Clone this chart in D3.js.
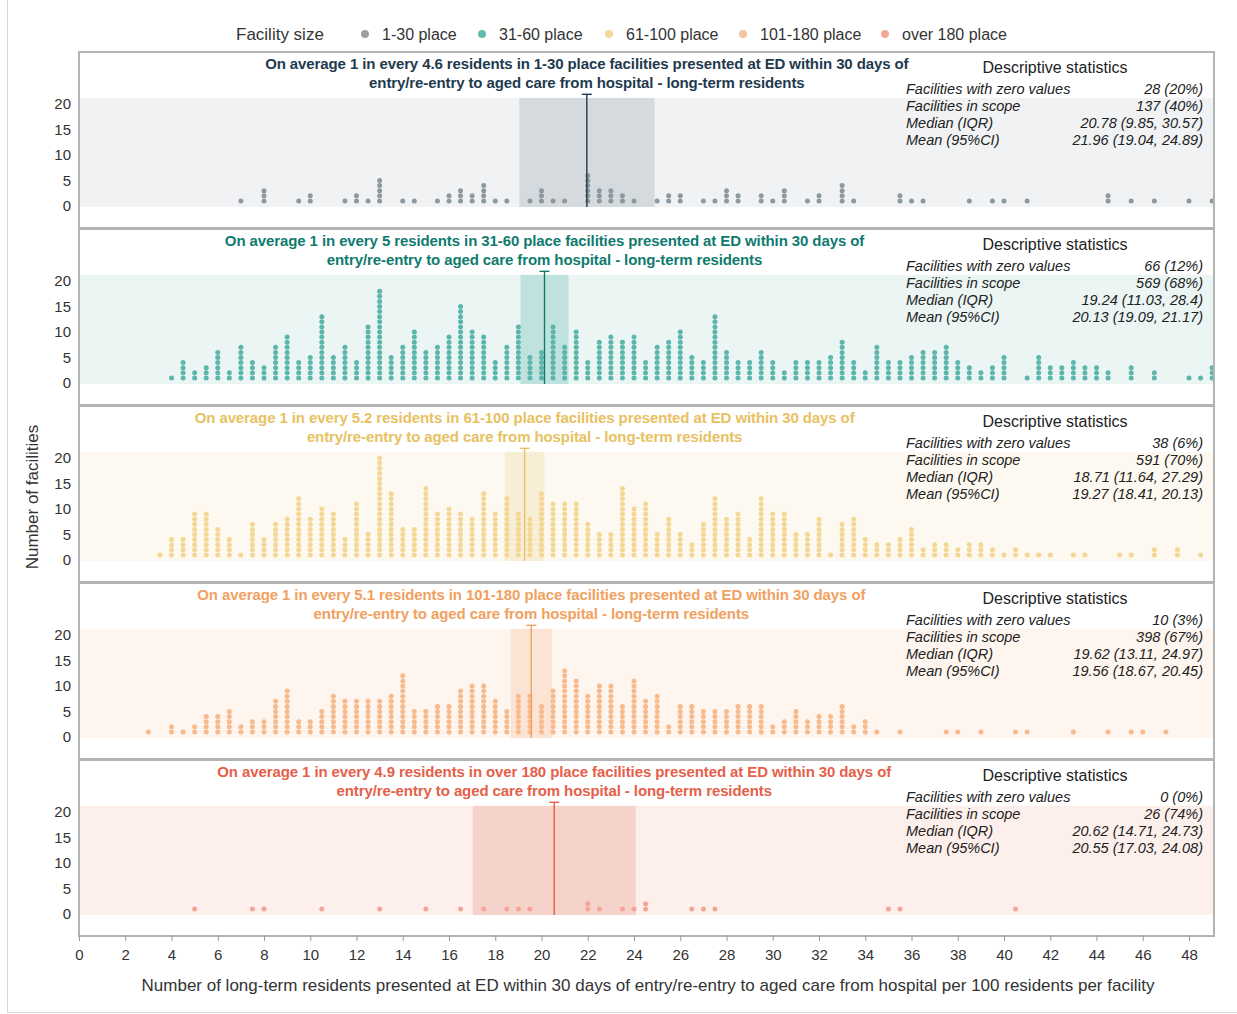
<!DOCTYPE html>
<html>
<head>
<meta charset="utf-8">
<script src="https://cdn.jsdelivr.net/npm/d3@7"></script>
<style>
  body { margin: 0; background: #fff; }
  svg { font-family: "Liberation Sans", Arial, sans-serif; }
</style>
</head>
<body>
<svg id="chart" width="1237" height="1014"></svg>
<script>
// facility size groups
var groups = ["1-30", "31-60", "61-100", "101-180", "over 180"];
var avgEvery = ["4.6", "5", "5.2", "5.1", "4.9"];

// dot plot bins (rate per 100 residents) and number of facilities in each
var rate1 = [7,8,9.5,10,11.5,12,12.5,13,14,14.5,15.5,16,16.5,17,17.5,18,18.5,19.5,20,20.5,21,22,22.5,23,23.5,24,25,25.5,26,27,27.5,28,28.5,29.5,30,30.5,31.5,32,33,33.5,35.5,36,36.5,38.5,39.5,40,41,44.5,45.5,46.5,48,49];
var count1 = [1,3,1,2,1,2,1,5,1,1,1,2,3,2,4,1,1,1,3,1,1,6,3,3,2,1,1,2,2,1,1,3,2,2,1,3,1,2,4,1,2,1,1,1,1,1,1,2,1,1,1,1];

var rate2 = [4,4.5,5,5.5,6,6.5,7,7.5,8,8.5,9,9.5,10,10.5,11,11.5,12,12.5,13,13.5,14,14.5,15,15.5,16,16.5,17,17.5,18,18.5,19,19.5,20,20.5,21,21.5,22,22.5,23,23.5,24,24.5,25,25.5,26,26.5,27,27.5,28,28.5,29,29.5,30,30.5,31,31.5,32,32.5,33,33.5,34,34.5,35,35.5,36,36.5,37,37.5,38,38.5,39,39.5,40,41,41.5,42,42.5,43,43.5,44,44.5,45.5,46.5,48,48.5,49];
var count2 = [1,4,2,3,6,2,7,4,3,7,9,4,5,13,5,7,4,11,18,5,7,10,6,7,9,15,10,9,4,7,11,5,6,11,7,10,4,8,9,8,9,4,7,8,10,5,4,13,6,4,4,6,4,2,4,4,4,5,8,4,2,7,4,4,5,6,6,7,4,3,2,3,5,1,5,3,3,4,3,3,2,3,2,1,1,3];

var rate3 = [3.5,4,4.5,5,5.5,6,6.5,7,7.5,8,8.5,9,9.5,10,10.5,11,11.5,12,12.5,13,13.5,14,14.5,15,15.5,16,16.5,17,17.5,18,18.5,19,19.5,20,20.5,21,21.5,22,22.5,23,23.5,24,24.5,25,25.5,26,26.5,27,27.5,28,28.5,29,29.5,30,30.5,31,31.5,32,32.5,33,33.5,34,34.5,35,35.5,36,36.5,37,37.5,38,38.5,39,39.5,40,40.5,41,41.5,42,43,43.5,45,45.5,46.5,47.5,48.5];
var count3 = [1,4,4,9,9,6,4,1,7,4,7,8,12,8,10,9,4,11,5,20,13,6,6,14,9,10,9,8,13,9,12,9,8,13,11,11,11,7,5,5,14,10,11,5,8,5,3,7,12,8,9,4,12,9,9,5,5,8,1,7,8,4,3,3,4,6,2,3,3,2,3,3,2,1,2,1,1,1,1,1,1,1,2,2,1];

var rate4 = [3,4,4.5,5,5.5,6,6.5,7,7.5,8,8.5,9,9.5,10,10.5,11,11.5,12,12.5,13,13.5,14,14.5,15,15.5,16,16.5,17,17.5,18,18.5,19,19.5,20,20.5,21,21.5,22,22.5,23,23.5,24,24.5,25,25.5,26,26.5,27,27.5,28,28.5,29,29.5,30,30.5,31,31.5,32,32.5,33,33.5,34,34.5,35.5,37.5,38,39,40.5,41,43,44.5,45.5,46,47];
var count4 = [1,2,1,2,4,4,5,2,3,3,7,9,3,3,5,8,7,7,7,7,8,12,5,5,6,6,9,10,10,7,5,8,8,6,9,13,11,8,10,10,6,11,7,8,2,6,6,5,5,5,6,6,6,2,3,5,3,4,4,6,2,3,1,1,1,1,1,1,1,1,1,1,1,1];

var rate5 = [5,7.5,8,10.5,13,15,16.5,17.5,18.5,19,19.5,22,22.5,23.5,24,24.5,26.5,27,27.5,35,35.5,40.5];
var count5 = [1,1,1,1,1,1,1,1,1,1,1,2,1,1,1,2,1,1,1,1,1,1];

// descriptive statistics
var meanRate = [21.96, 20.13, 19.27, 19.56, 20.55];
var ciLow = [19.04, 19.09, 18.41, 18.67, 17.03];
var ciHigh = [24.89, 21.17, 20.13, 20.45, 24.08];
var zeroValues = ["28 (20%)", "66 (12%)", "38 (6%)", "10 (3%)", "0 (0%)"];
var inScope = ["137 (40%)", "569 (68%)", "591 (70%)", "398 (67%)", "26 (74%)"];
var medianIqr = ["20.78 (9.85, 30.57)", "19.24 (11.03, 28.4)", "18.71 (11.64, 27.29)", "19.62 (13.11, 24.97)", "20.62 (14.71, 24.73)"];

var yTicks = [0, 5, 10, 15, 20];
var xTicks = d3.range(0, 49, 2);

var rates = [rate1, rate2, rate3, rate4, rate5];
var counts = [count1, count2, count3, count4, count5];

// colours per group
var dotColor = ["#8d989f", "#5cb6ac", "#f3d795", "#f7ba8c", "#f2a697"];
var bandColor = ["#f0f2f4", "#eaf5f4", "#fdf9f0", "#fef5ef", "#fdf0ec"];
var boxColor = ["#d4dadd", "#c0e2de", "#f8eed6", "#fbe4d4", "#f6d3ca"];
var titleColor = ["#1e3a4e", "#0f7b6f", "#e8c162", "#f1a15f", "#e5604a"];
var legendColor = ["#9a9fa3", "#62bab0", "#f1d99b", "#f7c39a", "#f2a99b"];

var svg = d3.select("#chart");

var left = 79, right = 1214, panelTop = 52, panelStep = 177, panelH = 176;

var x = d3.scaleLinear().domain([0, 48]).range([left, 1189]);

// outer frame
svg.append("line").attr("x1", 7.5).attr("x2", 7.5).attr("y1", 0).attr("y2", 1012)
    .attr("stroke", "#d6d6d6");
svg.append("line").attr("x1", 7).attr("x2", 1237).attr("y1", 1012.5).attr("y2", 1012.5)
    .attr("stroke", "#d6d6d6");

// legend
var legend = svg.append("g");
legend.append("text").attr("x", 236).attr("y", 40).attr("font-size", 17).attr("fill", "#333")
    .text("Facility size");
var legX = [365, 482, 609, 743, 885];
groups.forEach(function(g, i) {
    legend.append("circle").attr("cx", legX[i]).attr("cy", 34).attr("r", 4).attr("fill", legendColor[i]);
    legend.append("text").attr("x", legX[i] + 17).attr("y", 40).attr("font-size", 16).attr("fill", "#333")
        .text(g + " place");
});

groups.forEach(function(g, i) {
    var top = panelTop + i * panelStep;
    var y0 = 206 + i * panelStep;
    var y = d3.scaleLinear().domain([0, 20]).range([y0, y0 - 102]);
    var p = svg.append("g");

    // shaded band
    p.append("rect").attr("x", left).attr("width", right - left)
        .attr("y", y(21.2)).attr("height", y(-0.2) - y(21.2))
        .attr("fill", bandColor[i]);

    // 95% CI box
    p.append("rect").attr("x", x(ciLow[i])).attr("width", x(ciHigh[i]) - x(ciLow[i]))
        .attr("y", y(21.2)).attr("height", y(-0.2) - y(21.2))
        .attr("fill", boxColor[i]);

    // dots
    var pts = [];
    rates[i].forEach(function(r, k) {
        for (var j = 1; j <= counts[i][k]; j++) pts.push({r: r, n: j});
    });
    p.selectAll(".dot").data(pts).enter().append("circle")
        .attr("cx", function(d) { return x(d.r); })
        .attr("cy", function(d) { return y(d.n); })
        .attr("r", 2.5)
        .attr("fill", dotColor[i]);

    // mean line with cap
    var mx = x(meanRate[i]);
    p.append("line").attr("x1", mx).attr("x2", mx).attr("y1", y(-0.2)).attr("y2", y(21.9))
        .attr("stroke", titleColor[i]).attr("stroke-width", 1.4);
    p.append("line").attr("x1", mx - 5).attr("x2", mx + 5).attr("y1", y(21.9)).attr("y2", y(21.9))
        .attr("stroke", titleColor[i]).attr("stroke-width", 1.4);

    // title
    var t = p.append("text").attr("text-anchor", "middle").attr("font-size", 15).attr("font-weight", "bold")
        .attr("letter-spacing", "-0.1px").attr("fill", titleColor[i]);
    t.append("tspan").attr("x", mx).attr("y", top + 17)
        .text("On average 1 in every " + avgEvery[i] + " residents in " + g + " place facilities presented at ED within 30 days of");
    t.append("tspan").attr("x", mx).attr("y", top + 36)
        .text("entry/re-entry to aged care from hospital - long-term residents");

    // descriptive statistics
    p.append("text").attr("x", 1055).attr("y", top + 21).attr("text-anchor", "middle")
        .attr("font-size", 16).attr("fill", "#222").text("Descriptive statistics");
    var labels = ["Facilities with zero values", "Facilities in scope", "Median (IQR)", "Mean (95%CI)"];
    var values = [zeroValues[i], inScope[i], medianIqr[i],
        meanRate[i].toFixed(2) + " (" + ciLow[i].toFixed(2) + ", " + ciHigh[i].toFixed(2) + ")"];
    labels.forEach(function(l, k) {
        p.append("text").attr("x", 906).attr("y", top + 42 + k * 17).attr("font-size", 14.5)
            .attr("font-style", "italic").attr("fill", "#222").text(l);
        p.append("text").attr("x", 1203).attr("y", top + 42 + k * 17).attr("font-size", 14.5)
            .attr("text-anchor", "end").attr("font-style", "italic").attr("fill", "#222").text(values[k]);
    });

    // y axis
    var ya = p.append("g").attr("transform", "translate(" + left + ",0)")
        .call(d3.axisLeft(y).tickValues(yTicks).tickSize(0).tickPadding(8));
    ya.select(".domain").remove();
    ya.selectAll("text").attr("font-size", 15).attr("fill", "#333")
        .attr("font-family", "Liberation Sans, Arial, sans-serif");

    // panel border
    p.append("rect").attr("x", left).attr("y", top).attr("width", right - left).attr("height", panelH)
        .attr("fill", "none").attr("stroke", "#b4b4b4").attr("stroke-width", 2);
});

// x axis
var xa = svg.append("g").attr("transform", "translate(0,935)")
    .call(d3.axisBottom(x).tickValues(xTicks).tickSize(6).tickPadding(8).tickSizeOuter(0));
xa.select(".domain").remove();
xa.selectAll("line").attr("stroke", "#999");
xa.selectAll("text").attr("font-size", 15).attr("fill", "#333")
    .attr("font-family", "Liberation Sans, Arial, sans-serif");

svg.append("text").attr("x", 648).attr("y", 991).attr("text-anchor", "middle")
    .attr("font-size", 17).attr("fill", "#333")
    .text("Number of long-term residents presented at ED within 30 days of entry/re-entry to aged care from hospital per 100 residents per facility");

svg.append("text").attr("transform", "translate(38,497) rotate(-90)").attr("text-anchor", "middle")
    .attr("font-size", 17).attr("fill", "#333").text("Number of facilities");
</script>
</body>
</html>
